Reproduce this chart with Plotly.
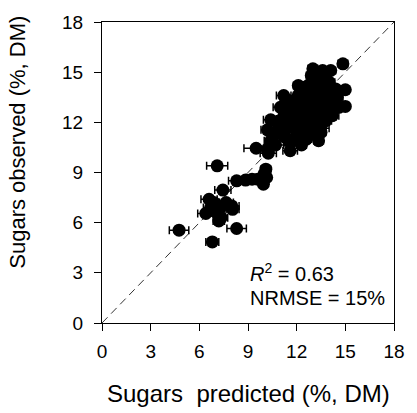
import plotly.graph_objects as go

# Predicted vs observed sugar content (% of dry matter) with prediction spread
sugars_predicted = [
    4.75, 6.8, 8.3, 7.1, 7.45, 6.6, 6.7, 6.4, 7.0, 7.3, 7.65, 8.0, 8.05, 7.35, 6.9, 7.2,
    8.3, 8.85, 9.25, 9.6, 9.9, 10.0, 10.1, 9.95, 10.15,
    9.5, 10.25, 10.2, 10.7, 10.4, 11.6, 12.3, 13.35, 10.2, 10.4, 11.0, 11.2,
    14.2, 15.0, 15.0, 14.85, 13.6, 14.1, 13.3,
    11.8, 12.1, 12.4, 12.7, 13.0, 13.3, 13.7, 14.0, 13.5, 13.1, 12.8, 12.4, 12.0, 11.6,
    11.4, 11.7, 12.0, 12.3, 12.6, 12.9, 13.2, 13.5, 13.8, 14.1, 14.3, 14.0, 13.7, 13.4,
    13.0, 12.6, 12.2, 11.9, 12.5, 12.9, 13.3, 13.6, 13.9, 14.4, 12.2, 12.6, 13.2, 12.8,
    13.1, 12.4, 11.9, 12.7, 13.0, 13.4, 12.3, 12.9, 11.5, 11.3, 11.1, 10.9, 10.7, 11.3,
    11.6, 12.1, 13.9, 14.5, 14.6, 12.1, 13.6, 13.0,
    11.5, 11.8, 12.2, 12.5, 12.8, 13.1, 13.4, 13.7, 12.0, 12.4, 12.7, 13.2, 13.8, 11.7,
    12.9, 13.5, 14.2, 11.0, 11.4, 12.2,
]
sugars_observed = [
    5.55, 4.85, 5.65, 9.4, 7.95, 7.4, 6.9, 6.55, 6.65, 6.9, 7.2, 7.0, 6.8, 6.3, 7.2, 6.1,
    8.5, 8.55, 8.6, 8.6, 8.5, 8.9, 9.2, 8.3, 8.7,
    10.45, 10.15, 10.4, 10.65, 10.9, 10.3, 10.65, 10.9, 11.55, 12.15, 12.9, 13.6,
    12.4, 13.95, 12.95, 15.5, 15.0, 15.1, 11.65,
    13.2, 13.6, 13.9, 14.2, 14.5, 14.7, 14.6, 14.4, 14.2, 13.9, 13.5, 13.1, 12.8, 12.5,
    12.0, 11.7, 11.4, 11.2, 11.0, 11.3, 11.5, 11.8, 12.1, 12.6, 13.0, 13.3, 13.6, 13.9,
    13.2, 12.8, 12.4, 12.1, 12.0, 12.4, 12.7, 13.0, 13.8, 14.0, 13.0, 13.6, 13.4, 12.0,
    11.9, 11.6, 11.0, 11.6, 12.8, 13.3, 14.1, 14.0, 13.3, 12.6, 12.2, 11.8, 11.3, 11.1,
    10.8, 10.9, 12.9, 13.5, 12.9, 14.2, 15.1, 15.2,
    11.8, 12.3, 12.6, 13.3, 13.0, 12.5, 12.2, 12.4, 13.4, 12.7, 11.4, 14.0, 14.8, 13.0,
    14.8, 11.4, 13.7, 11.6, 12.9, 11.9,
]
prediction_error = [
    0.6, 0.4, 0.6, 0.65, 0.5, 0.5, 0.45, 0.5, 0.4, 0.4, 0.45, 0.45, 0.4, 0.4, 0.35, 0.35,
    0.5, 0.3, 0.3, 0.3, 0.25, 0.3, 0.3, 0.2, 0.25,
    0.75, 0.5, 0.4, 0.5, 0.4, 0.45, 0.3, 0.3, 0.4, 0.45, 0.45, 0.45,
    0.4, 0.2, 0.2, 0.3, 0.3, 0.3, 0.7,
    0.4, 0.3, 0.35, 0.3, 0.3, 0.3, 0.3, 0.35, 0.3, 0.3, 0.3, 0.3, 0.35, 0.4,
    0.4, 0.35, 0.3, 0.3, 0.3, 0.3, 0.3, 0.3, 0.35, 0.35, 0.3, 0.3, 0.3, 0.3,
    0.3, 0.3, 0.3, 0.3, 0.3, 0.3, 0.3, 0.3, 0.3, 0.35, 0.3, 0.3, 0.3, 0.3,
    0.3, 0.3, 0.35, 0.3, 0.3, 0.3, 0.3, 0.3, 0.4, 0.4, 0.35, 0.35, 0.4, 0.35,
    0.35, 0.3, 0.3, 0.35, 0.3, 0.3, 0.3, 0.3,
    0.3, 0.3, 0.3, 0.3, 0.3, 0.3, 0.3, 0.3, 0.3, 0.3, 0.3, 0.3, 0.3, 0.3,
    0.3, 0.3, 0.3, 0.4, 0.3, 0.3,
]

axis_ticks = [0, 3, 6, 9, 12, 15, 18]
one_to_one = [0, 18]

FONT = "Liberation Sans, Arial, sans-serif"

fig = go.Figure()

# 1:1 reference line
fig.add_trace(go.Scatter(
    x=one_to_one, y=one_to_one, mode="lines",
    line=dict(color="#333333", width=1, dash="8px,5px"),
    hoverinfo="skip", showlegend=False,
))

fig.add_trace(go.Scatter(
    x=sugars_predicted, y=sugars_observed, mode="markers",
    marker=dict(color="black", size=13, line=dict(width=0)),
    error_x=dict(type="data", array=prediction_error, visible=True,
                 color="black", thickness=1.5, width=4),
    showlegend=False,
))

axis_common = dict(
    range=[0, 18], tickvals=axis_ticks, ticktext=[str(t) for t in axis_ticks],
    ticks="outside", ticklen=7, tickwidth=1, tickcolor="black",
    showline=True, linecolor="black", linewidth=1, mirror=True,
    showgrid=False, zeroline=False,
    tickfont=dict(family=FONT, size=19, color="black"),
)

fig.update_xaxes(**axis_common, ticklabelstandoff=4)
fig.update_yaxes(**axis_common, ticklabelstandoff=7)

fig.add_annotation(
    text="Sugars  predicted (%, DM)", xref="paper", yref="paper",
    x=0.5, y=-0.235, xanchor="center", yanchor="middle", showarrow=False,
    font=dict(family=FONT, size=24, color="black"),
)
fig.add_annotation(
    text="Sugars observed (%, DM)", xref="paper", yref="paper",
    x=-0.29, y=0.6, xanchor="center", yanchor="middle", textangle=-90,
    showarrow=False, font=dict(family=FONT, size=22, color="black"),
)
fig.add_annotation(
    text="<i>R</i><sup>2</sup> = 0.63", x=9.0, y=3.0, xanchor="left", yanchor="middle",
    showarrow=False, font=dict(family=FONT, size=20, color="black"),
)
fig.add_annotation(
    text="NRMSE = 15%", x=9.0, y=1.5, xanchor="left", yanchor="middle",
    showarrow=False, font=dict(family=FONT, size=20, color="black"),
)

fig.update_layout(
    width=417, height=413,
    margin=dict(l=102, r=15, t=16, b=90),
    plot_bgcolor="white", paper_bgcolor="white",
)

fig.write_html("out.html")
